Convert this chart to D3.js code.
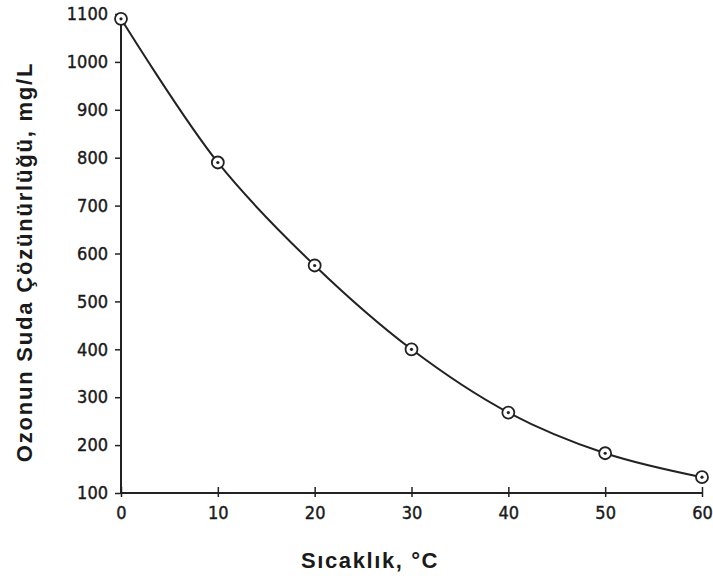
<!DOCTYPE html>
<html>
<head>
<meta charset="utf-8">
<script src="https://cdn.jsdelivr.net/npm/d3@7"></script>
<style>
  body { margin: 0; background: #fff; }
  .title { font-family: "Liberation Sans", Arial, sans-serif; font-weight: bold; font-size: 22px; fill: #1a1a1a; }
</style>
</head>
<body>
<div id="chart"></div>
<script>
const temps = [0, 10, 20, 30, 40, 50, 60]
const solubility = [1090, 790, 575, 400, 268, 183, 133]
const xTicks = [0, 10, 20, 30, 40, 50, 60]
const yTicks = [100, 200, 300, 400, 500, 600, 700, 800, 900, 1000, 1100]

var margin = { top: 14, right: 11, bottom: 89, left: 121 }
var width = 713 - margin.left - margin.right
var height = 582 - margin.top - margin.bottom

var svg = d3.select('#chart')
  .append('svg')
  .attr('width', 713)
  .attr('height', 582)

var g = svg.append('g')
  .attr('transform', 'translate(' + margin.left + ',' + margin.top + ')')

var xScale = d3.scaleLinear().domain([0, 60]).range([0, width])
var yScale = d3.scaleLinear().domain([100, 1100]).range([height, 0])

// heavier condensed tick labels like the scanned figure
function styleTicks(axis) {
  axis.selectAll('.tick text')
    .attr('font-family', '"Liberation Sans Narrow", "DejaVu Sans Condensed", sans-serif')
    .attr('font-size', 18)
    .attr('fill', '#1a1a1a')
    .attr('stroke', '#1a1a1a')
    .attr('stroke-width', 0.4)
}

// y axis, ticks pointing out
var yAxis = g.append('g')
  .call(d3.axisLeft(yScale).tickValues(yTicks).tickFormat(d3.format('d')).tickSize(6).tickPadding(7))
yAxis.select('.domain').attr('stroke', '#222').attr('stroke-width', 2).attr('d', 'M0,0V' + height)
yAxis.selectAll('.tick line').attr('stroke', '#222').attr('stroke-width', 1.5)
styleTicks(yAxis)

// x axis, ticks pointing in
var xAxis = g.append('g')
  .attr('transform', 'translate(0,' + height + ')')
  .call(d3.axisBottom(xScale).tickValues(xTicks).tickFormat(d3.format('d')).tickSize(0).tickPadding(13))
xAxis.select('.domain').attr('stroke', '#222').attr('stroke-width', 2).attr('d', 'M0,0H' + width)
xAxis.selectAll('.tick').append('line')
  .attr('y1', -6).attr('y2', 4)
  .attr('stroke', '#222').attr('stroke-width', 1.5)
styleTicks(xAxis)

var pts = temps.map((t, i) => [t, solubility[i]])

var line = d3.line()
  .x(d => xScale(d[0]))
  .y(d => yScale(d[1]))
  .curve(d3.curveCatmullRom.alpha(0.5))

g.append('path')
  .datum(pts)
  .attr('d', line)
  .attr('fill', 'none')
  .attr('stroke', '#222')
  .attr('stroke-width', 2)

var marks = g.selectAll('.pt')
  .data(pts)
  .enter()
  .append('g')
  .classed('pt', true)
  .attr('transform', d => 'translate(' + xScale(d[0]) + ',' + yScale(d[1]) + ')')
marks.append('circle').attr('r', 6).attr('fill', '#fff').attr('stroke', '#222').attr('stroke-width', 1.8)
marks.append('circle').attr('r', 1.6).attr('fill', '#222')

// axis titles
svg.append('text')
  .attr('class', 'title')
  .attr('x', 370)
  .attr('y', 568)
  .attr('text-anchor', 'middle')
  .attr('letter-spacing', 1.6)
  .text('Sıcaklık, °C')

svg.append('text')
  .attr('class', 'title')
  .attr('transform', 'translate(32,262) rotate(-90)')
  .attr('text-anchor', 'middle')
  .attr('letter-spacing', 1.8)
  .text('Ozonun Suda Çözünürlüğü, mg/L')
</script>
</body>
</html>
